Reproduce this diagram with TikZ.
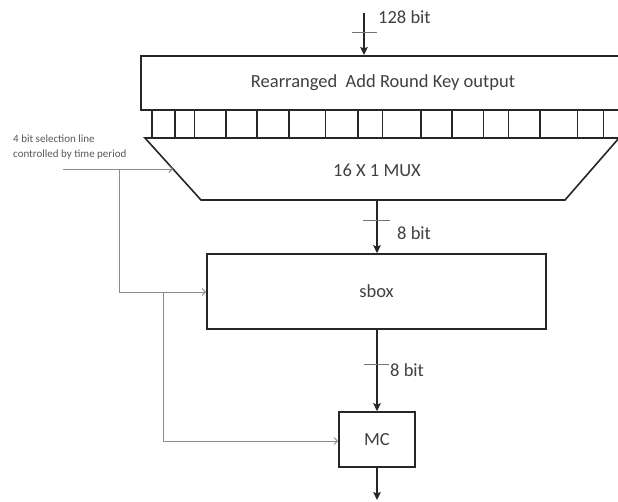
\documentclass[tikz,border=0pt]{standalone}
\usepackage{fontspec}
\setmainfont{Carlito}
\usetikzlibrary{arrows.meta}
\begin{document}
\begin{tikzpicture}[x=1pt,y=-1pt,
  blk/.style={draw=black!85, line width=1.6pt},
  boxnode/.style={blk, fill=white, inner sep=0pt, text=black!75, font=\fontsize{18.5}{20}\selectfont},
  barrow/.style={draw=black!85, line width=1.6pt, -{Stealth[length=8pt,width=7.5pt,inset=1.5pt]}},
  garrow/.style={draw=black!45, line width=0.9pt, -{Straight Barb[length=3.5pt,width=7pt]}},
  gline/.style={draw=black!45, line width=0.9pt},
  tick/.style={draw=black!55, line width=0.9pt},
  lbl/.style={text=black!75, inner sep=0pt, font=\fontsize{18.5}{20}\selectfont},
  small/.style={text=black!65, inner sep=0pt, align=left, font=\fontsize{11}{15}\selectfont}
]
\useasboundingbox (0,0) rectangle (618,501);
\fill[white] (0,0) rectangle (618,501);

% top register box (right edge falls outside the picture)
\node[boxnode, minimum width=485pt, minimum height=54pt, anchor=north west] (top) at (140,55) {};
\node[lbl] (toptext) at (383,83) {Rearranged\ \ Add Round Key output};

% cells row
\foreach \cx in {151.7,175,194.3,226,256.7,289,325.3,357.7,382.3,421,451.7,483.3,508.3,540,577.3,603.3}
  \draw[blk] (\cx,109) -- (\cx,138);

% MUX trapezoid
\draw[blk, line join=miter] (145,138) -- (622,138) -- (619,138) -- (565,200) -- (201,200) -- cycle;
\node[lbl] (mux) at (377,170) {16 X 1 MUX};
\coordinate (muxout) at (377,200);
\coordinate (muxleft) at (173,169);

% sbox and MC
\node[boxnode, minimum width=339pt, minimum height=75pt] (sbox) at (376.5,291.5) {sbox};
\node[boxnode, minimum width=76pt, minimum height=55pt] (mc) at (377,439.5) {MC};

% 128 bit input
\coordinate (in128) at (364,13);
\draw[barrow] (in128) -- (in128 |- top.north);
\coordinate (t1a) at (352,32); \coordinate (t1b) at (377,32);
\draw[tick] (t1a) -- (t1b);
\node[lbl, anchor=west] (l128) at (378,17) {128 bit};

% MUX -> sbox
\draw[barrow] (muxout) -- (muxout |- sbox.north);
\coordinate (t2a) at (363,220); \coordinate (t2b) at (390,220);
\draw[tick] (t2a) -- (t2b);
\node[lbl, anchor=west] (l8a) at (397,233) {8 bit};

% sbox -> MC
\draw[barrow] (sbox.south -| mc.north) -- (mc.north);
\coordinate (t3a) at (364,364); \coordinate (t3b) at (389,364);
\draw[tick] (t3a) -- (t3b);
\node[lbl, anchor=west] (l8b) at (390,370) {8 bit};

% MC output
\coordinate (out) at (377,500);
\draw[barrow] (mc.south) -- (out);

% selection line
\node[small, anchor=west] (sel) at (13,147.5) {4 bit selection line\\controlled by time period};
\coordinate (selstart) at (63,169);
\coordinate (j1) at (119,169);
\coordinate (j2) at (119,292);
\coordinate (j3) at (163,292);
\coordinate (j4) at (163,441);
\draw[garrow] (selstart) -- (muxleft);
\draw[garrow] (j1) -- (j2) -- (j2 -| sbox.west);
\draw[garrow] (j3) -- (j4) -- (j4 -| mc.west);
\end{tikzpicture}
\end{document}
